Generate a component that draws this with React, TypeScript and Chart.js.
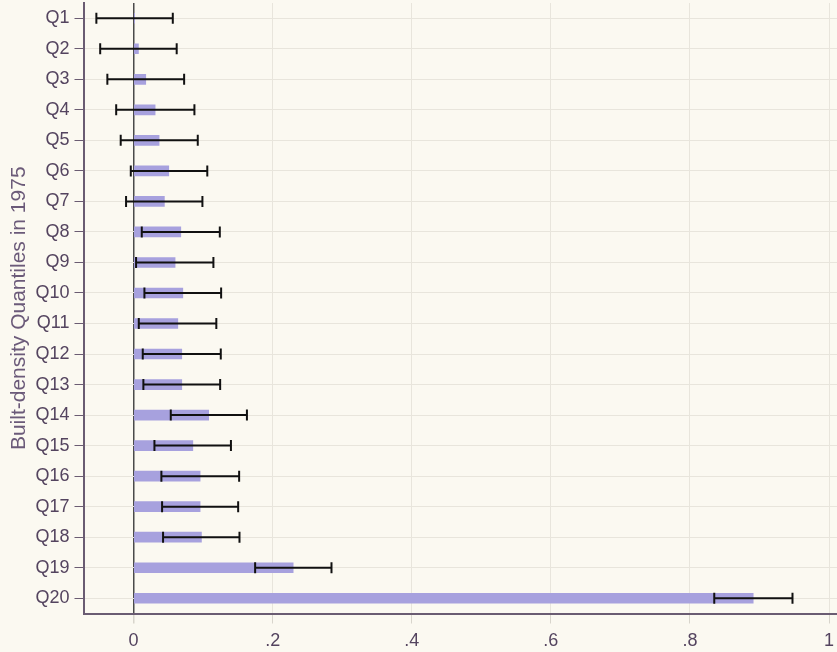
import React, { useEffect, useRef } from "react";
import { Chart, registerables } from "chart.js";

Chart.register(...registerables);

const categories = ["Q1","Q2","Q3","Q4","Q5","Q6","Q7","Q8","Q9","Q10","Q11","Q12","Q13","Q14","Q15","Q16","Q17","Q18","Q19","Q20"];
const means = [0.0015, 0.007, 0.0175, 0.031, 0.0367, 0.0506, 0.0443, 0.0679, 0.0597, 0.0708, 0.0636, 0.0693, 0.0693, 0.108, 0.0852, 0.0957, 0.0957, 0.0976, 0.2295, 0.891];
const lows = [-0.0535, -0.048, -0.0377, -0.025, -0.0185, -0.004, -0.0108, 0.0118, 0.0036, 0.0156, 0.0075, 0.0132, 0.0141, 0.0535, 0.030, 0.040, 0.041, 0.0424, 0.1748, 0.835];
const highs = [0.0564, 0.062, 0.0727, 0.0875, 0.0923, 0.106, 0.099, 0.124, 0.1148, 0.1259, 0.119, 0.1254, 0.1245, 0.163, 0.140, 0.1518, 0.1504, 0.1523, 0.2846, 0.9475];
const xTicks = [0, 0.2, 0.4, 0.6, 0.8, 1];
const yTitle = "Built-density Quantiles in 1975";

const BG = "#fbf9f1";
const TEXT = "#54445f";
const SPINE = "#6a5c72";
const GRID = "#e8e5dc";
const FONT = "'Liberation Sans Narrow', 'Arial Narrow', 'Liberation Sans', Arial, sans-serif";

const bgPlugin = {
  id: "bg",
  beforeDraw(chart: any) {
    const ctx = chart.ctx;
    ctx.save();
    ctx.fillStyle = BG;
    ctx.fillRect(0, 0, chart.width, chart.height);
    ctx.restore();
  },
};

const errPlugin = {
  id: "errbars",
  afterDatasetsDraw(chart: any) {
    const ctx = chart.ctx;
    const xs = chart.scales.x;
    const ys = chart.scales.y;
    ctx.save();
    ctx.strokeStyle = "#111111";
    ctx.lineWidth = 2;
    for (let i = 0; i < categories.length; i++) {
      const y = ys.getPixelForValue(i);
      const x1 = xs.getPixelForValue(lows[i]);
      const x2 = xs.getPixelForValue(highs[i]);
      ctx.beginPath();
      ctx.moveTo(x1, y);
      ctx.lineTo(x2, y);
      ctx.moveTo(x1, y - 5.5);
      ctx.lineTo(x1, y + 5.5);
      ctx.moveTo(x2, y - 5.5);
      ctx.lineTo(x2, y + 5.5);
      ctx.stroke();
    }
    ctx.restore();
  },
};

export default function App() {
  const ref = useRef<HTMLCanvasElement>(null);
  useEffect(() => {
    if (!ref.current) return;
    const chart = new Chart(ref.current, {
      type: "bar",
      data: {
        labels: categories,
        datasets: [
          {
            data: means,
            backgroundColor: "#a7a1de",
            borderWidth: 0,
            barThickness: 10,
          },
        ],
      },
      options: {
        indexAxis: "y",
        animation: false,
        responsive: true,
        maintainAspectRatio: false,
        layout: { padding: { top: 3, right: 0, left: 0, bottom: 0 } },
        plugins: { legend: { display: false }, tooltip: { enabled: false } },
        scales: {
          x: {
            type: "linear",
            min: -0.072,
            max: 1.0115,
            afterBuildTicks: (s: any) => {
              s.ticks = xTicks.map((v) => ({ value: v }));
            },
            afterFit: (s: any) => {
              s.height = 38.5;
              s.paddingLeft = 0;
              s.paddingRight = 0;
            },
            grid: {
              color: (c: any) => (c.tick && c.tick.value === 0 ? "#4a4a4a" : GRID),
              lineWidth: (c: any) => (c.tick && c.tick.value === 0 ? 1.5 : 1),
              tickColor: "#d8d5cc",
              tickLength: 10,
            },
            border: { color: SPINE, width: 2 },
            ticks: {
              color: TEXT,
              font: { family: FONT, size: 18 },
              padding: 7,
              maxRotation: 0,
              callback: (v: any) => {
                const n = Number(v);
                if (n === 0) return "0";
                if (n === 1) return "1";
                return String(n).replace(/^0/, "");
              },
            },
          },
          y: {
            type: "category",
            offset: true,
            afterFit: (s: any) => {
              s.width = 83.5;
              s.paddingTop = 0;
              s.paddingBottom = 0;
            },
            grid: {
              offset: false,
              color: GRID,
              lineWidth: 1,
              tickColor: SPINE,
              tickLength: 9,
            },
            border: { color: SPINE, width: 2 },
            ticks: {
              color: TEXT,
              font: { family: FONT, size: 18 },
              padding: 5,
              autoSkip: false,
            },
            title: {
              display: true,
              text: yTitle,
              color: "#6b5a79",
              font: { family: "'Liberation Sans', Arial, sans-serif", size: 21 },
              padding: { top: 7, bottom: 0 },
            },
          },
        },
      },
      plugins: [bgPlugin, errPlugin],
    });
    return () => chart.destroy();
  }, []);
  return (
    <div style={{ position: "fixed", left: 0, top: 0, width: 837, height: 652, background: BG }}>
      <canvas ref={ref} />
    </div>
  );
}
